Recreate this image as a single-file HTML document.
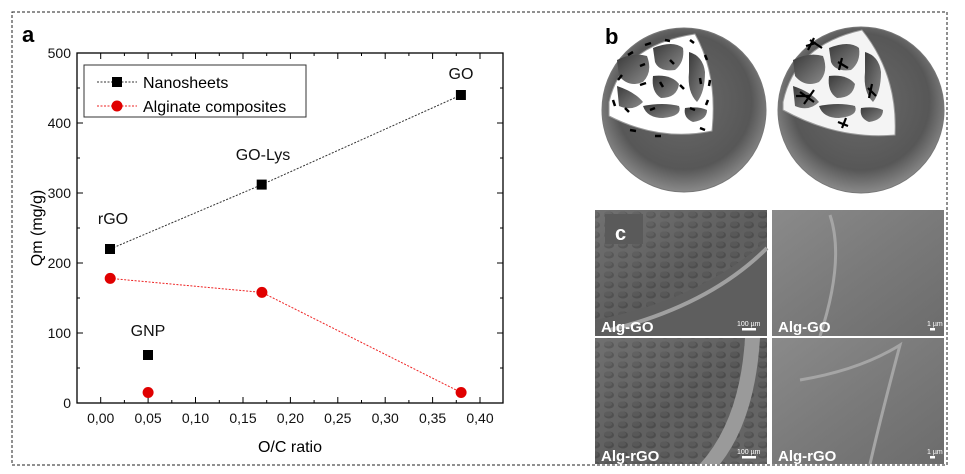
<!DOCTYPE html>
<html><head><meta charset="utf-8"><style>
body{margin:0;background:#fff;width:965px;height:469px;overflow:hidden;font-family:"Liberation Sans",sans-serif}
</style></head><body>
<svg width="965" height="469" viewBox="0 0 965 469" xmlns="http://www.w3.org/2000/svg" font-family="Liberation Sans, sans-serif">
<defs>
<radialGradient id="sph" cx="0.5" cy="0.45" r="0.55">
<stop offset="0" stop-color="#6a6a6a"/><stop offset="0.75" stop-color="#575757"/><stop offset="1" stop-color="#8a8a8a"/>
</radialGradient>
<linearGradient id="blob" x1="0" y1="0" x2="1" y2="1"><stop offset="0" stop-color="#3a3a3a"/><stop offset="1" stop-color="#8a8a8a"/></linearGradient>
<linearGradient id="semA" x1="0" y1="0" x2="1" y2="1"><stop offset="0" stop-color="#7a7a7a"/><stop offset="0.5" stop-color="#5a5a5a"/><stop offset="1" stop-color="#6a6a6a"/></linearGradient>
<linearGradient id="semB" x1="0" y1="0" x2="1" y2="1"><stop offset="0" stop-color="#8a8a8a"/><stop offset="0.5" stop-color="#7a7a7a"/><stop offset="1" stop-color="#6c6c6c"/></linearGradient>
<pattern id="pores" width="14" height="10" patternUnits="userSpaceOnUse"><rect width="14" height="10" fill="#666"/><ellipse cx="7" cy="5" rx="5" ry="3.5" fill="#3e3e3e"/><ellipse cx="6" cy="4" rx="4" ry="2.5" fill="#555"/></pattern>
<g id="blobs">
<path d="M4 -2 Q20 -10 34 -6 Q40 10 30 20 Q16 26 6 14Z" fill="url(#blob)"/>
<path d="M40 -14 Q60 -22 70 -14 Q72 0 62 8 Q46 10 42 0Z" fill="url(#blob)"/>
<path d="M76 -10 Q90 -6 92 10 Q92 30 84 40 Q74 30 76 10Z" fill="url(#blob)"/>
<path d="M40 14 Q58 12 66 22 Q64 36 48 36 Q38 30 40 14Z" fill="url(#blob)"/>
<path d="M4 24 Q22 30 30 40 Q20 50 6 44Z" fill="url(#blob)"/>
<path d="M30 44 Q50 40 66 44 Q70 54 50 56 Q34 56 30 44Z" fill="url(#blob)"/>
<path d="M72 46 Q86 44 94 48 Q94 58 80 60 Q70 56 72 46Z" fill="url(#blob)"/>
</g>
</defs>
<rect x="12" y="12" width="935" height="453" fill="none" stroke="#222" stroke-width="1" stroke-dasharray="3,2"/>
<text x="22" y="42" font-size="22" font-weight="bold">a</text>
<rect x="77" y="53" width="426" height="350" fill="none" stroke="#000" stroke-width="1.3"/>
<g stroke="#000" stroke-width="1">
<path d="M100.7 403v-6M148.1 403v-6M195.5 403v-6M243 403v-6M290.4 403v-6M337.8 403v-6M385.2 403v-6M432.6 403v-6M480 403v-6
M100.7 53v6M148.1 53v6M195.5 53v6M243 53v6M290.4 53v6M337.8 53v6M385.2 53v6M432.6 53v6M480 53v6
M124.4 403v-3M171.8 403v-3M219.3 403v-3M266.7 403v-3M314.1 403v-3M361.5 403v-3M408.9 403v-3M456.3 403v-3
M124.4 53v3M171.8 53v3M219.3 53v3M266.7 53v3M314.1 53v3M361.5 53v3M408.9 53v3M456.3 53v3
M77 403h6M77 333h6M77 263h6M77 193h6M77 123h6M77 53h6M77 368h3M77 298h3M77 228h3M77 158h3M77 88h3
M503 403h-6M503 333h-6M503 263h-6M503 193h-6M503 123h-6M503 53h-6M503 368h-3M503 298h-3M503 228h-3M503 158h-3M503 88h-3"/>
</g>
<g font-size="14" text-anchor="middle" fill="#111">
<text x="100.7" y="423">0,00</text><text x="148.1" y="423">0,05</text><text x="195.5" y="423">0,10</text><text x="243" y="423">0,15</text><text x="290.4" y="423">0,20</text><text x="337.8" y="423">0,25</text><text x="385.2" y="423">0,30</text><text x="432.6" y="423">0,35</text><text x="480" y="423">0,40</text>
</g>
<g font-size="14" text-anchor="end" fill="#111">
<text x="71" y="408">0</text><text x="71" y="338">100</text><text x="71" y="268">200</text><text x="71" y="198">300</text><text x="71" y="128">400</text><text x="71" y="58">500</text>
</g>
<text x="290" y="452" font-size="16" text-anchor="middle">O/C ratio</text>
<text transform="translate(42,228) rotate(-90)" font-size="16" text-anchor="middle">Qm (mg/g)</text>
<polyline points="110.2,249 261.9,184.6 461.1,95" fill="none" stroke="#333" stroke-width="1" stroke-dasharray="2,1.5"/>
<polyline points="110.2,278.4 261.9,292.4 461.1,392.5" fill="none" stroke="#e22" stroke-width="1" stroke-dasharray="2,1.5"/>
<g fill="#000">
<rect x="105" y="244" width="10" height="10"/><rect x="256.7" y="179.6" width="10" height="10"/><rect x="455.9" y="90" width="10" height="10"/><rect x="143" y="350" width="10" height="10"/>
</g>
<g fill="#e00000">
<circle cx="110.2" cy="278.4" r="5.5"/><circle cx="261.9" cy="292.4" r="5.5"/><circle cx="461.1" cy="392.5" r="5.5"/><circle cx="148.1" cy="392.5" r="5.5"/>
</g>
<g font-size="16" text-anchor="middle" fill="#111">
<text x="461" y="79">GO</text><text x="263" y="160">GO-Lys</text><text x="113" y="224">rGO</text><text x="148" y="336">GNP</text>
</g>
<rect x="84" y="65" width="222" height="52" fill="#fff" stroke="#333" stroke-width="1"/>
<line x1="97" y1="82" x2="137" y2="82" stroke="#333" stroke-dasharray="2,1.5"/><rect x="112" y="77" width="10" height="10"/>
<text x="143" y="88" font-size="16">Nanosheets</text>
<line x1="97" y1="106" x2="137" y2="106" stroke="#e22" stroke-dasharray="2,1.5"/><circle cx="117" cy="106" r="5.5" fill="#e00000"/>
<text x="143" y="112" font-size="16">Alginate composites</text>
<!-- panel b -->
<text x="605" y="44" font-size="22" font-weight="bold">b</text>
<circle cx="684" cy="110" r="82" fill="url(#sph)" stroke="#777"/>
<circle cx="861" cy="110" r="83" fill="url(#sph)" stroke="#777"/>
<path d="M609 102 Q622 45 695 34 Q718 75 712 131 Q660 142 609 116 Z" fill="#fff" stroke="#999"/>
<path d="M783 102 Q795 45 862 30 Q898 75 895 135 Q838 140 783 110 Z" fill="#f4f4f4" stroke="#999"/>
<use href="#blobs" x="613" y="62"/>
<use href="#blobs" x="789" y="62"/>
<g stroke="#000" stroke-width="2.5">
<path d="M618 80l4-5M628 55l5-3M645 45l6-2M665 40l5 1M690 40l4 3M705 55l2 5M710 80l-1 6M708 100l-2 5M625 108l4 4M650 110l5-2M680 85l4 4M640 85l6-2M660 82l3 5M690 108l5 2M700 128l5 2M630 130l6 1M613 100l2 6M655 136l6 0M670 60l4 4M640 66l5 -2M700 78l1 6"/>
</g>
<g stroke="#000" stroke-width="2.2">
<path d="M810 40l12 8M814 38l-6 12M806 46l10 -3M838 62l10 6M842 58l-3 12M800 92l14 10M804 104l10-14M796 96l14 0M868 88l8 8M872 84l-3 14M838 122l10 4M842 128l4-10"/>
</g>
<!-- panel c -->
<rect x="595" y="210" width="172" height="126" fill="url(#semA)"/>
<rect x="595" y="210" width="172" height="126" fill="url(#pores)" opacity="0.45"/>
<path d="M595 320 Q700 300 767 240 L767 336 L595 336Z" fill="#5e5e5e"/>
<path d="M610 330 Q710 305 767 248" stroke="#a0a0a0" stroke-width="4" fill="none"/>
<rect x="772" y="210" width="172" height="126" fill="url(#semB)"/>
<path d="M830 215 Q845 260 820 336" stroke="#a5a5a5" stroke-width="3" fill="none"/>
<rect x="595" y="338" width="172" height="126" fill="url(#semA)"/>
<rect x="595" y="338" width="172" height="126" fill="url(#pores)" opacity="0.5"/>
<path d="M745 338 Q740 420 700 464 L720 464 Q755 420 760 338Z" fill="#9a9a9a"/>
<rect x="772" y="338" width="172" height="126" fill="url(#semB)"/>
<path d="M800 380 Q860 370 900 345 Q880 420 870 464" stroke="#a5a5a5" stroke-width="3" fill="none"/>
<rect x="605" y="214" width="38" height="30" fill="#5a5a5a"/>
<text x="615" y="240" font-size="20" font-weight="bold" fill="#fff">c</text>
<g font-size="15" font-weight="bold" fill="#fff">
<text x="601" y="332">Alg-GO</text><text x="778" y="332">Alg-GO</text><text x="601" y="461">Alg-rGO</text><text x="778" y="461">Alg-rGO</text>
</g>
<g font-size="7" fill="#fff"><text x="737" y="326">100 µm</text><text x="927" y="326">1 µm</text><text x="737" y="454">100 µm</text><text x="927" y="454">1 µm</text></g>
<g fill="#fff"><rect x="742" y="328" width="14" height="2.5"/><rect x="930" y="328" width="5" height="2.5"/><rect x="742" y="456" width="14" height="2.5"/><rect x="930" y="456" width="5" height="2.5"/></g>
</svg>
</body></html>
